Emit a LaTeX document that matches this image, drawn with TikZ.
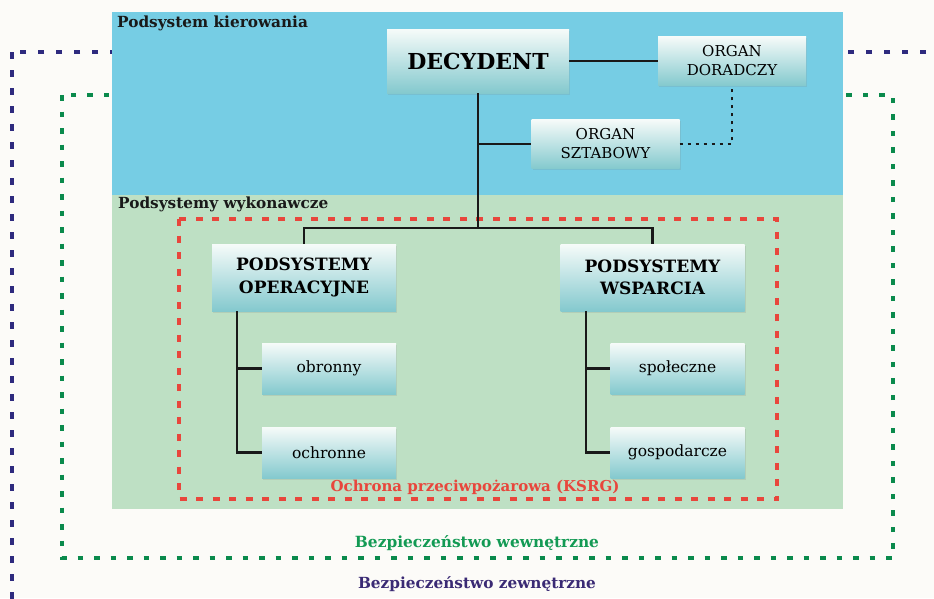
\documentclass[tikz,border=0pt]{standalone}
\usepackage{fontspec}
\setmainfont{DejaVu Serif}
\usetikzlibrary{shadows,calc}
\definecolor{bgc}{HTML}{FCFBF8}
\definecolor{bluereg}{HTML}{76CDE4}
\definecolor{greenreg}{HTML}{BEE0C4}
\definecolor{boxtop}{HTML}{F6FBF9}
\definecolor{boxbot}{HTML}{84C9CE}
\definecolor{navyc}{HTML}{2E2A7E}
\definecolor{navytxt}{HTML}{3A2A74}
\definecolor{greenc}{HTML}{0A8A4C}
\definecolor{greentxt}{HTML}{139A54}
\definecolor{redc}{HTML}{E8463C}
\begin{document}
\begin{tikzpicture}[x=1pt,y=-1pt,
  box/.style={draw=none, top color=boxtop, bottom color=boxbot, align=center, inner sep=0pt,
    drop shadow={opacity=0.18, shadow xshift=1pt, shadow yshift=-1.5pt}},
  bigbox/.style={box, minimum width=184pt, minimum height=67pt,
    font=\bfseries\fontsize{17}{22.5}\selectfont},
  subbox/.style={box, minimum width=134pt, minimum height=51pt,
    font=\fontsize{15.5}{19}\selectfont},
  orgbox/.style={box, minimum width=148pt, minimum height=49pt,
    font=\fontsize{15}{19}\selectfont},
  conn/.style={line width=2.3pt, black!90},
  dotconn/.style={line width=2.4pt, black!90, dash pattern=on 3.5pt off 4.5pt},
  regionlabel/.style={anchor=west, inner sep=0pt, font=\bfseries\fontsize{15.3}{17}\selectfont, text=black!90},
  navydash/.style={draw=navyc, line width=4pt, dash pattern=on 6.5pt off 11.5pt},
  greendash/.style={draw=greenc, line width=4pt, dash pattern=on 5.5pt off 11pt},
  reddash/.style={draw=redc, line width=4pt, dash pattern=on 7pt off 9.5pt}]
\useasboundingbox (0,0) rectangle (934,598);
\clip (0,0) rectangle (934,598);
\fill[bgc] (0,0) rectangle (934,598);
% security frames
\draw[navydash] (12,52) rectangle (970,640);
\draw[greendash] (62,95) rectangle (893,558);
% regions
\fill[bluereg] (112,12) rectangle (843,195);
\fill[greenreg] (112,195) rectangle (843,509);
\draw[reddash] (179,219) rectangle (777,499);
% region labels
\node[regionlabel] (lk) at (117,23) {Podsystem kierowania};
\node[regionlabel] (lw) at (118,204) {Podsystemy wykonawcze};
\node[font=\bfseries\fontsize{15}{17}\selectfont, text=redc, inner sep=0pt] (lr) at (475,487) {Ochrona przeciwpożarowa (KSRG)};
\node[font=\bfseries\fontsize{15.4}{17}\selectfont, text=greentxt, inner sep=0pt] (lg) at (477,543) {Bezpieczeństwo wewnętrzne};
\node[font=\bfseries\fontsize{15.3}{17}\selectfont, text=navytxt, inner sep=0pt] (ln) at (477,584) {Bezpieczeństwo zewnętrzne};
% boxes
\node[box, minimum width=182pt, minimum height=64pt, font=\bfseries\fontsize{22}{26}\selectfont] (dec) at (478,61) {DECYDENT};
\node[orgbox] (dor) at (732,61) {ORGAN\\DORADCZY};
\node[orgbox] (szt) at (605.5,144) {ORGAN\\SZTABOWY};
\node[bigbox] (op) at (304,277.5) {PODSYSTEMY\\OPERACYJNE};
\node[bigbox] (wsp) at (652.5,277.5) {PODSYSTEMY\\WSPARCIA};
\node[subbox] (obr) at (329,368.5) {obronny};
\node[subbox] (ochr) at (329,452.5) {ochronne};
\node[subbox] (spo) at (677.5,368.5) {społeczne};
\node[subbox] (gos) at (677.5,452.5) {gospodarcze};
% connectors
\coordinate (j1) at (478,228);
\coordinate (opx) at (237,0);
\coordinate (wspx) at (586,0);
\draw[conn] (dec.east) -- (dor.west);
\draw[conn] (dec.south) -- (j1);
\draw[conn] (dec.south |- szt.west) -- (szt.west);
\draw[dotconn] (szt.east) -| (dor.south);
\draw[conn] (op.north) |- (j1) -| (wsp.north);
\draw[conn] (opx |- op.south) |- (ochr.west);
\draw[conn] (opx |- obr.west) -- (obr.west);
\draw[conn] (wspx |- wsp.south) |- (gos.west);
\draw[conn] (wspx |- spo.west) -- (spo.west);
\end{tikzpicture}
\end{document}
